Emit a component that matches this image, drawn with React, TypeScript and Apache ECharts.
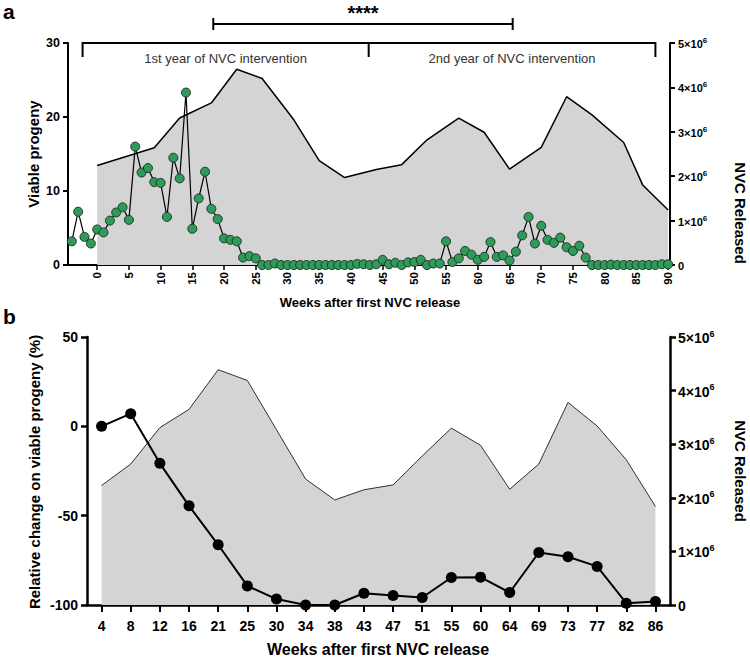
import React, { useEffect, useRef } from "react";
import * as echarts from "echarts";

// ---- Panel a data ----
const weeksA: number[] = [];
for (let w = -4; w <= 90; w++) weeksA.push(w);
const progenyA = [
  3.2, 7.2, 3.8, 2.9, // -4..-1
  4.8, 4.4, 6.0, 7.1, 7.8, 6.1, 16.0, 12.5, 13.1, 11.2, // 0..9
  11.1, 6.5, 14.5, 11.7, 23.3, 4.9, 9.0, 12.6, 7.6, 6.2, // 10..19
  3.6, 3.4, 3.2, 1.0, 1.2, 0.9, 0, 0, 0.2, 0, // 20..29
  0, 0, 0, 0, 0, 0, 0, 0, 0, 0, // 30..39
  0, 0.15, 0.1, 0, 0.1, 0.7, 0.1, 0.3, 0, 0.35, // 40..49
  0.4, 0.7, 0, 0.2, 0.2, 3.2, 0.4, 0.9, 1.9, 1.4, // 50..59
  0.7, 1.1, 3.1, 1.1, 1.3, 0.6, 1.8, 4.0, 6.5, 2.9, // 60..69
  5.3, 3.4, 3.0, 3.7, 2.4, 1.9, 2.6, 1.0, 0, 0, // 70..79
  0, 0.05, 0, 0, 0, 0, 0, 0, 0, 0.1, // 80..89
  0.1, // 90
];
const nvcWeeksA = [0, 9, 13, 18, 22, 26, 31, 35, 39, 44, 48, 52, 57, 61, 65, 70, 74, 78, 83, 86, 90];
const nvcA = [2.24, 2.64, 3.31, 3.65, 4.41, 4.2, 3.27, 2.35, 1.97, 2.15, 2.26, 2.82, 3.31, 2.99, 2.16, 2.65, 3.79, 3.38, 2.76, 1.8, 1.24].map((v) => v * 1e6);
const xTicksA = [0, 5, 10, 15, 20, 25, 30, 35, 40, 45, 50, 55, 60, 65, 70, 75, 80, 85, 90];

// annotation positions (in data units of panel a)
const bracketWeeks = [-2.3, 42.8, 88.0];
const sigWeeks = [18.3, 65.5];

// ---- Panel b data ----
const weeksB = ["4", "8", "12", "16", "21", "25", "30", "34", "38", "43", "47", "51", "55", "60", "64", "69", "73", "77", "82", "86"];
const relChangeB = [0, 7.1, -20.7, -44.5, -66.3, -89.3, -96.7, -100, -100, -93.4, -94.7, -95.8, -84.6, -84.4, -93, -70.6, -73, -78.4, -99, -98];
const nvcB = [2.23, 2.63, 3.31, 3.65, 4.39, 4.19, 3.27, 2.35, 1.96, 2.15, 2.24, 2.78, 3.3, 2.98, 2.16, 2.63, 3.78, 3.34, 2.71, 1.84].map((v) => v * 1e6);

const FONT = "'Liberation Sans', Arial, Helvetica, sans-serif";

function sciFormatter(v: number) {
  if (v === 0) return "{a|0}";
  return `{a|${Math.round(v / 1e6)}×10}{b|6}`;
}

export default function App() {
  const ref = useRef<HTMLDivElement>(null);
  useEffect(() => {
    if (!ref.current) return;
    const chart = echarts.init(ref.current, undefined, { renderer: "svg" });
    const axisLineStyle = (w: number) => ({ show: true, onZero: false, lineStyle: { color: "#000", width: w } });
    const richA = (size: number, sup: number) => ({
      a: { fontSize: size, fontWeight: "bold", color: "#000", fontFamily: FONT, lineHeight: size + 2, verticalAlign: "bottom" },
      b: { fontSize: sup, fontWeight: "bold", color: "#000", fontFamily: FONT, lineHeight: sup + 1, verticalAlign: "top" },
    });
    const option: any = {
      animation: false,
      grid: [
        { left: 68, right: 80, top: 43, bottom: 394 },
        { left: 87, right: 80, top: 337, bottom: 54 },
      ],
      xAxis: [
        {
          type: "value",
          gridIndex: 0,
          min: -4.6,
          max: 90.3,
          axisLine: axisLineStyle(2),
          axisTick: { show: true, customValues: xTicksA, length: 5, lineStyle: { color: "#000", width: 1.5 } },
          axisLabel: { customValues: xTicksA, rotate: 90, fontSize: 11.5, fontWeight: "bold", color: "#000", fontFamily: FONT, margin: 7 },
          splitLine: { show: false },
        },
        {
          type: "category",
          gridIndex: 1,
          data: weeksB,
          boundaryGap: true,
          axisLine: axisLineStyle(2.5),
          axisTick: { show: true, alignWithLabel: true, length: 7, lineStyle: { color: "#000", width: 2 } },
          axisLabel: { fontSize: 14, fontWeight: "bold", color: "#000", fontFamily: FONT, margin: 14, interval: 0 },
          splitLine: { show: false },
        },
      ],
      yAxis: [
        {
          type: "value",
          gridIndex: 0,
          min: 0,
          max: 30,
          interval: 10,
          axisLine: axisLineStyle(2),
          axisTick: { show: true, length: 5, lineStyle: { color: "#000", width: 2 } },
          axisLabel: { fontSize: 12.5, fontWeight: "bold", color: "#000", fontFamily: FONT, margin: 8 },
          splitLine: { show: false },
        },
        {
          type: "value",
          gridIndex: 0,
          position: "right",
          min: 0,
          max: 5e6,
          interval: 1e6,
          axisLine: axisLineStyle(2),
          axisTick: { show: true, length: 5, lineStyle: { color: "#000", width: 2 } },
          axisLabel: { formatter: sciFormatter, rich: richA(11, 8), margin: 8 },
          splitLine: { show: false },
        },
        {
          type: "value",
          gridIndex: 1,
          min: -100,
          max: 50,
          interval: 50,
          axisLine: axisLineStyle(2.5),
          axisTick: { show: true, length: 6, lineStyle: { color: "#000", width: 2.5 } },
          axisLabel: { fontSize: 14, fontWeight: "bold", color: "#000", fontFamily: FONT, margin: 9 },
          splitLine: { show: false },
        },
        {
          type: "value",
          gridIndex: 1,
          position: "right",
          min: 0,
          max: 5e6,
          interval: 1e6,
          axisLine: axisLineStyle(2.5),
          axisTick: { show: true, length: 6, lineStyle: { color: "#000", width: 2.5 } },
          axisLabel: { formatter: sciFormatter, rich: richA(14, 9), margin: 8 },
          splitLine: { show: false },
        },
      ],
      series: [
        {
          type: "line",
          xAxisIndex: 0,
          yAxisIndex: 1,
          data: nvcWeeksA.map((w, i) => [w, nvcA[i]]),
          symbol: "none",
          lineStyle: { color: "#000", width: 1.5 },
          areaStyle: { color: "#d4d4d4", opacity: 1 },
          z: 1,
        },
        {
          type: "line",
          xAxisIndex: 0,
          yAxisIndex: 0,
          data: weeksA.map((w, i) => [w, progenyA[i]]),
          symbol: "circle",
          symbolSize: 9,
          clip: false,
          itemStyle: { color: "#2f9a5a", borderColor: "#1b3a26", borderWidth: 1 },
          lineStyle: { color: "#000", width: 1.2 },
          z: 3,
        },
        {
          type: "line",
          xAxisIndex: 1,
          yAxisIndex: 3,
          data: nvcB,
          symbol: "none",
          lineStyle: { color: "#000", width: 0.8 },
          areaStyle: { color: "#d4d4d4", opacity: 1 },
          z: 1,
        },
        {
          type: "line",
          xAxisIndex: 1,
          yAxisIndex: 2,
          data: relChangeB,
          symbol: "circle",
          symbolSize: 11,
          clip: false,
          itemStyle: { color: "#000" },
          lineStyle: { color: "#000", width: 2 },
          z: 3,
        },
      ],
    };
    chart.setOption(option);

    const px = (w: number, v: number) => chart.convertToPixel({ xAxisIndex: 0, yAxisIndex: 0 }, [w, v]) as number[];
    const topY = px(0, 30)[1];
    const tickY = topY + 14;
    const bx = bracketWeeks.map((w) => px(w, 30)[0]);
    const sx = sigWeeks.map((w) => px(w, 30)[0]);
    const sigY = 24;
    const lineSt = { stroke: "#000", lineWidth: 2 };
    const graphics: any[] = [
      { type: "line", shape: { x1: bx[0], y1: topY, x2: bx[2], y2: topY }, style: lineSt, z: 10 },
      ...bx.map((x) => ({ type: "line", shape: { x1: x, y1: topY - 1, x2: x, y2: tickY }, style: lineSt, z: 10 })),
      { type: "line", shape: { x1: sx[0], y1: sigY, x2: sx[1], y2: sigY }, style: lineSt, z: 10 },
      ...sx.map((x) => ({ type: "line", shape: { x1: x, y1: sigY - 6, x2: x, y2: sigY + 6 }, style: lineSt, z: 10 })),
      { type: "text", x: (sx[0] + sx[1]) / 2, y: 3, style: { text: "****", font: `bold 20px ${FONT}`, fill: "#000", align: "center", verticalAlign: "top" }, z: 10 },
      { type: "text", x: (bx[0] + bx[1]) / 2, y: 58, style: { text: "1st year of NVC intervention", font: `13px ${FONT}`, fill: "#333", align: "center", verticalAlign: "middle" }, z: 10 },
      { type: "text", x: (bx[1] + bx[2]) / 2, y: 58, style: { text: "2nd year of NVC intervention", font: `13px ${FONT}`, fill: "#333", align: "center", verticalAlign: "middle" }, z: 10 },
      { type: "text", x: 3, y: 11, style: { text: "a", font: `bold 21px ${FONT}`, fill: "#000", align: "left", verticalAlign: "middle" } },
      { type: "text", x: 3, y: 316, style: { text: "b", font: `bold 21px ${FONT}`, fill: "#000", align: "left", verticalAlign: "middle" } },
      { type: "text", x: 33, y: 154, rotation: Math.PI / 2, style: { text: "Viable progeny", font: `bold 15px ${FONT}`, fill: "#000", align: "center", verticalAlign: "middle" } },
      { type: "text", x: 740, y: 213, rotation: -Math.PI / 2, style: { text: "NVC Released", font: `bold 15px ${FONT}`, fill: "#000", align: "center", verticalAlign: "middle" } },
      { type: "text", x: 370, y: 302, style: { text: "Weeks after first NVC release", font: `bold 13px ${FONT}`, fill: "#000", align: "center", verticalAlign: "middle" } },
      { type: "text", x: 34, y: 472, rotation: Math.PI / 2, style: { text: "Relative change on viable progeny (%)", font: `bold 15px ${FONT}`, fill: "#000", align: "center", verticalAlign: "middle" } },
      { type: "text", x: 740, y: 471, rotation: -Math.PI / 2, style: { text: "NVC Released", font: `bold 15px ${FONT}`, fill: "#000", align: "center", verticalAlign: "middle" } },
      { type: "text", x: 378, y: 649, style: { text: "Weeks after first NVC release", font: `bold 16px ${FONT}`, fill: "#000", align: "center", verticalAlign: "middle" } },
    ];
    chart.setOption({ graphic: graphics });
    return () => chart.dispose();
  }, []);
  return <div ref={ref} style={{ position: "fixed", left: 0, top: 0, width: 750, height: 659, background: "#fff" }} />;
}
